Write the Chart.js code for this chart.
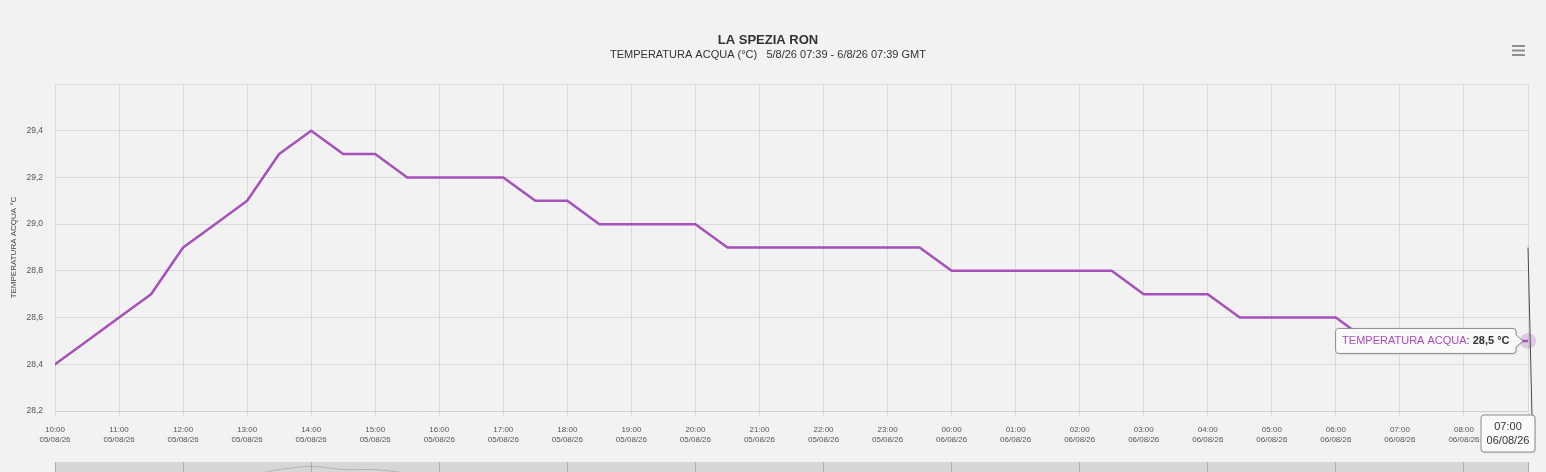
<!DOCTYPE html>
<html><head><meta charset="utf-8">
<script src="https://cdn.jsdelivr.net/npm/chart.js@4.4.1/dist/chart.umd.min.js"></script>
<style>
html,body{margin:0;padding:0;background:#f2f2f2;overflow:hidden;width:1546px;height:472px;}
#wrap{position:absolute;left:0;top:0;width:1536px;height:462px;}
#nav{position:absolute;left:0;top:462px;width:1536px;height:40px;}
canvas{display:block;}
</style></head><body>
<div id="wrap"><canvas id="c" width="1536" height="462"></canvas></div>
<div id="nav"><canvas id="n" width="1536" height="40"></canvas></div>
<script>
// ---- data ----
const chartTitle = 'LA SPEZIA RON';
const chartSubtitle = 'TEMPERATURA ACQUA (°C)   5/8/26 07:39 - 6/8/26 07:39 GMT';
const seriesName = 'TEMPERATURA ACQUA';
const yAxisTitle = 'TEMPERATURA ACQUA °C';
const unit = '°C';
const sampleTimes = ['10:00','10:30','11:00','11:30','12:00','12:30','13:00','13:30','14:00','14:30',
  '15:00','15:30','16:00','16:30','17:00','17:30','18:00','18:30','19:00','19:30',
  '20:00','20:30','21:00','21:30','22:00','22:30','23:00','23:30','00:00','00:30',
  '01:00','01:30','02:00','02:30','03:00','03:30','04:00','04:30','05:00','05:30',
  '06:00','06:30','07:00','07:30','08:00','08:30','09:00'];
const waterTemp = [28.4,28.5,28.6,28.7,28.9,29.0,29.1,29.3,29.4,29.3,
  29.3,29.2,29.2,29.2,29.2,29.1,29.1,29.0,29.0,29.0,
  29.0,28.9,28.9,28.9,28.9,28.9,28.9,28.9,28.8,28.8,
  28.8,28.8,28.8,28.8,28.7,28.7,28.7,28.6,28.6,28.6,
  28.6,28.5,28.5,28.5,28.5,28.5,28.5];
const hourTickTimes = ['10:00','11:00','12:00','13:00','14:00','15:00','16:00','17:00','18:00','19:00',
  '20:00','21:00','22:00','23:00','00:00','01:00','02:00','03:00','04:00','05:00','06:00','07:00','08:00'];
const hourTickDates = ['05/08/26','05/08/26','05/08/26','05/08/26','05/08/26','05/08/26','05/08/26','05/08/26',
  '05/08/26','05/08/26','05/08/26','05/08/26','05/08/26','05/08/26','06/08/26','06/08/26','06/08/26','06/08/26',
  '06/08/26','06/08/26','06/08/26','06/08/26','06/08/26'];
const yMin = 28.2, yMax = 29.6, yStep = 0.2;
const hoverTimeGMT = '07:00', hoverDateGMT = '06/08/26';

// ---- helpers ----
const FONT = "'Liberation Sans', Arial, sans-serif";
const LINE = '#a650b9';
function hoursFromStart(t){
  const [h,m] = t.split(':').map(Number);
  let v = h + m/60;
  if (h < 10) v += 24;
  return v - 10;
}
const points = sampleTimes.map((t,i)=>({x: hoursFromStart(t), y: waterTemp[i]}));
const xMax = points[points.length-1].x;
const fmt = v => v.toFixed(1).replace('.', ',');

function roundRectPath(c, l, t, w, h, r){
  c.moveTo(l+r, t); c.lineTo(l+w-r, t); c.quadraticCurveTo(l+w, t, l+w, t+r);
  c.lineTo(l+w, t+h-r); c.quadraticCurveTo(l+w, t+h, l+w-r, t+h);
  c.lineTo(l+r, t+h); c.quadraticCurveTo(l, t+h, l, t+h-r);
  c.lineTo(l, t+r); c.quadraticCurveTo(l, t, l+r, t);
}

const overlay = {
  id:'overlay',
  afterDraw(chart){
    const c = chart.ctx, xs = chart.scales.x, ys = chart.scales.y;
    const last = points[points.length-1];
    const px = xs.getPixelForValue(last.x), py = ys.getPixelForValue(last.y);
    c.save();
    // menu icon
    c.strokeStyle = '#8f8f8f'; c.lineWidth = 2;
    [46,50.5,55].forEach(yy=>{c.beginPath();c.moveTo(1512,yy);c.lineTo(1525,yy);c.stroke();});
    // halo
    c.fillStyle = 'rgba(166,80,185,0.25)';
    c.beginPath(); c.arc(px, py, 8, 0, Math.PI*2); c.fill();
    // crosshair
    c.strokeStyle = '#4a4a4a'; c.lineWidth = 1;
    c.beginPath(); c.moveTo(px, ys.getPixelForValue(28.9)); c.lineTo(px+4, xs.top+5); c.stroke();
    // tooltip
    c.font = '11px ' + FONT;
    const nameW = c.measureText(seriesName).width;
    const sepW = c.measureText(': ').width;
    c.font = 'bold 11px ' + FONT;
    const valTxt = fmt(last.y) + ' ' + unit;
    const valW = c.measureText(valTxt).width;
    const pad = 6.5, h = 25;
    const right = px - 12, w = nameW + sepW + valW + pad*2, left = right - w;
    const top = py - h/2;
    const r = 3;
    c.shadowColor = 'rgba(0,0,0,0.12)'; c.shadowOffsetX = 1; c.shadowOffsetY = 1; c.shadowBlur = 2;
    c.fillStyle = 'rgba(250,250,250,0.96)';
    c.strokeStyle = '#8c8c8c';
    c.beginPath();
    c.moveTo(left+r, top); c.lineTo(right-r, top); c.quadraticCurveTo(right, top, right, top+r);
    c.lineTo(right, py-6); c.lineTo(px-5, py); c.lineTo(right, py+6);
    c.lineTo(right, top+h-r); c.quadraticCurveTo(right, top+h, right-r, top+h);
    c.lineTo(left+r, top+h); c.quadraticCurveTo(left, top+h, left, top+h-r);
    c.lineTo(left, top+r); c.quadraticCurveTo(left, top, left+r, top);
    c.closePath(); c.fill();
    c.shadowColor = 'transparent'; c.stroke();
    c.textBaseline = 'middle'; c.textAlign = 'left';
    let tx = left + pad, ty = py + 0.5;
    c.font = '11px ' + FONT; c.fillStyle = LINE; c.fillText(seriesName, tx, ty); tx += nameW;
    c.fillStyle = '#333'; c.fillText(': ', tx, ty); tx += sepW;
    c.font = 'bold 11px ' + FONT; c.fillText(valTxt, tx, ty);
    // x label box
    c.font = '11px ' + FONT;
    const bw = 54, bh = 37;
    const bRight = Math.min(px + bw/2, chart.width - 1), bLeft = bRight - bw, bTop = xs.top + 4;
    c.shadowColor = 'rgba(0,0,0,0.12)'; c.shadowOffsetX = 1; c.shadowOffsetY = 1; c.shadowBlur = 2;
    c.fillStyle = 'rgba(250,250,250,0.98)';
    c.beginPath(); roundRectPath(c, bLeft, bTop, bw, bh, r); c.closePath(); c.fill();
    c.shadowColor = 'transparent'; c.stroke();
    c.fillStyle = '#333'; c.textAlign = 'center';
    c.fillText(hoverTimeGMT, (bLeft+bRight)/2, bTop + 11.5);
    c.fillText(hoverDateGMT, (bLeft+bRight)/2, bTop + 26);
    c.restore();
  }
};

new Chart(document.getElementById('c'), {
  type:'line',
  data:{datasets:[{label:seriesName, data:points, borderColor:LINE, borderWidth:2.5,
    pointRadius:0, pointHoverRadius:0, tension:0, fill:false, borderJoinStyle:'round', borderCapStyle:'round'}]},
  options:{
    responsive:false, animation:false, events:[],
    layout:{padding:{left:8,right:8,top:0,bottom:0}},
    plugins:{
      legend:{display:false}, tooltip:{enabled:false},
      title:{display:true, text:chartTitle, color:'#333', font:{family:FONT,size:13,weight:'bold'}, padding:{top:32.2,bottom:0}},
      subtitle:{display:true, text:chartSubtitle, color:'#333', font:{family:FONT,size:11}, padding:{top:0.6,bottom:22.4}}
    },
    scales:{
      x:{type:'linear', min:0, max:xMax,
        ticks:{stepSize:1, autoSkip:false, maxRotation:0, color:'#555', padding:7.5,
          font:{family:FONT,size:8,lineHeight:1.25},
          callback:(v)=> (Number.isInteger(v) && v < hourTickTimes.length) ? [hourTickTimes[v], hourTickDates[v]] : ''},
        grid:{color:'#dadada', tickLength:6, drawTicks:true},
        border:{color:'#cfcfcf'},
        afterFit:s=>{s.height = 51;}
      },
      y:{min:yMin, max:yMax,
        ticks:{stepSize:yStep, color:'#555', padding:12, font:{family:FONT,size:8.5},
          callback:(v)=> v > yMax - 0.01 ? '' : fmt(v)},
        grid:{color:'#dadada', drawTicks:false},
        border:{display:false},
        title:{display:true, text:yAxisTitle, color:'#444', font:{family:FONT,size:8}, padding:{top:1,bottom:0}},
        afterFit:s=>{s.width = 47;}
      }
    }
  },
  plugins:[overlay]
});

const navBg = {
  id:'navBg',
  beforeDraw(chart){
    const a = chart.chartArea, c = chart.ctx;
    c.save(); c.fillStyle = '#d6d6d6'; c.fillRect(a.left, a.top, a.right-a.left, a.bottom-a.top); c.restore();
  }
};
new Chart(document.getElementById('n'), {
  type:'line',
  data:{datasets:[{data:points, borderColor:'rgba(150,120,160,0.45)', borderWidth:1, pointRadius:0, tension:0.2, fill:false}]},
  options:{
    responsive:false, animation:false, events:[],
    layout:{padding:{left:55,right:8,top:0,bottom:0}},
    plugins:{legend:{display:false}, tooltip:{enabled:false}},
    scales:{
      x:{type:'linear', min:0, max:xMax, ticks:{display:false, stepSize:2}, grid:{color:'#adadad', drawTicks:false}, border:{display:false}, afterFit:s=>{s.height=0;}},
      y:{display:false, min:28.3, max:29.533}
    }
  },
  plugins:[navBg]
});
</script>
</body></html>
